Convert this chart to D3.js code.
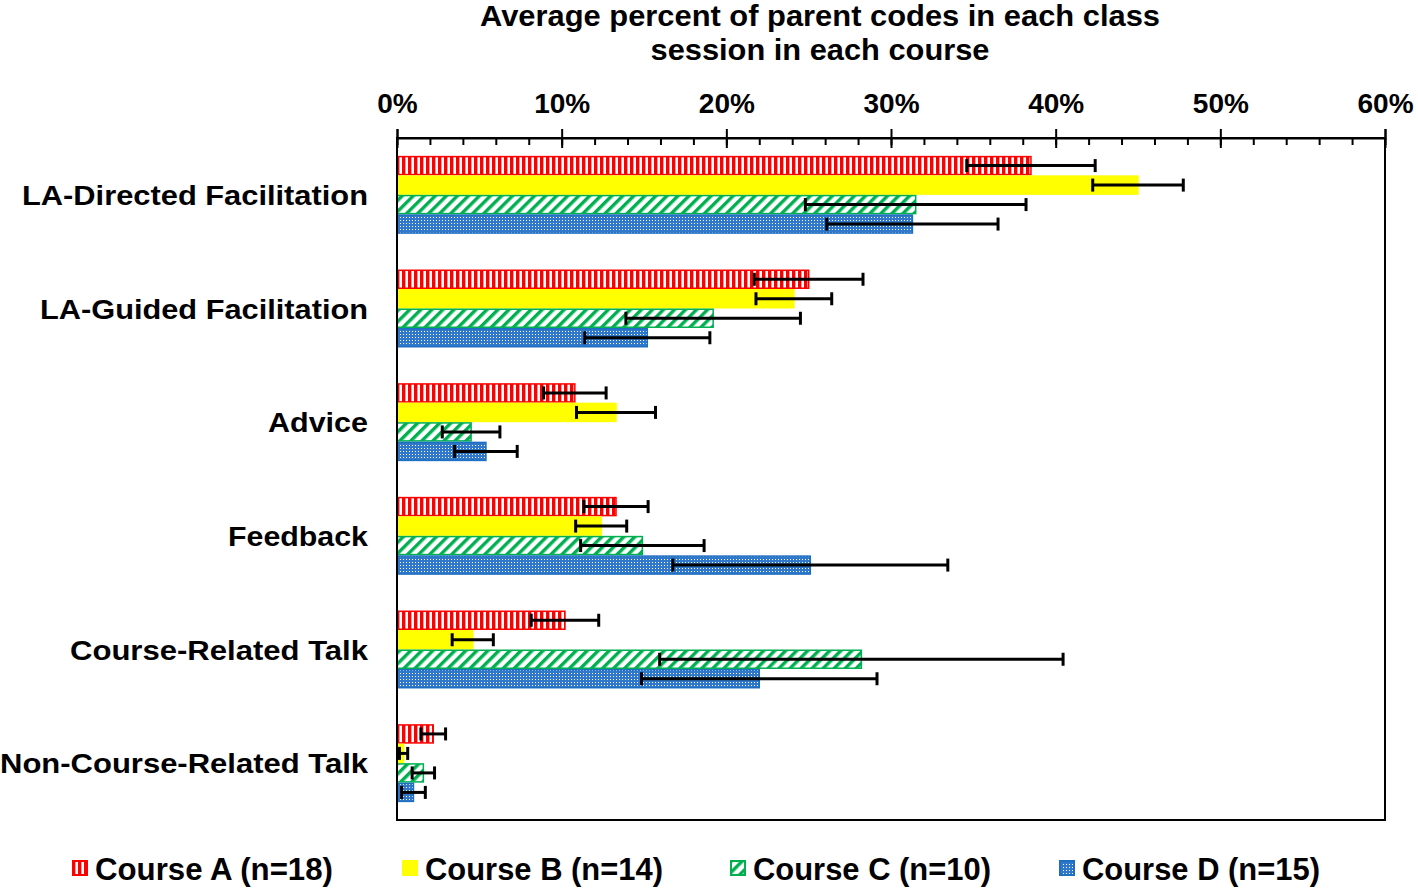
<!DOCTYPE html>
<html>
<head>
<meta charset="utf-8">
<script src="https://cdn.jsdelivr.net/npm/d3@7"></script>
<style>
  body { margin: 0; background: #fff; }
  text { font-family: "Liberation Sans", Arial, sans-serif; font-weight: bold; fill: #000; }
</style>
</head>
<body>
<svg id="chart" width="1418" height="888"></svg>
<script>
// data (percent)
var categories = ["LA-Directed Facilitation", "LA-Guided Facilitation", "Advice", "Feedback",
                  "Course-Related Talk", "Non-Course-Related Talk"];
var seriesNames = ["Course A (n=18)", "Course B (n=14)", "Course C (n=10)", "Course D (n=15)"];
var courseA = [38.5, 25.0, 10.8, 13.3, 10.2, 2.2];
var courseB = [45.0, 24.1, 13.3, 12.4, 4.6, 0.4];
var courseC = [31.5, 19.2, 4.5, 14.9, 28.2, 1.6];
var courseD = [31.3, 15.2, 5.4, 25.1, 22.0, 1.0];
var errA = [3.9, 3.3, 1.9, 1.95, 2.05, 0.75];
var errB = [2.75, 2.3, 2.4, 1.55, 1.25, 0.25];
var errC = [6.7, 5.3, 1.75, 3.75, 12.25, 0.68];
var errD = [5.2, 3.8, 1.9, 8.35, 7.15, 0.72];
var xTicks = [0, 10, 20, 30, 40, 50, 60];

var values = [courseA, courseB, courseC, courseD];
var errors = [errA, errB, errC, errD];
var colors = ["#ff0000", "#ffff00", "#00b050", "#1f6fc0"];
var fills = ["url(#patA)", "#ffff00", "url(#patC)", "url(#patD)"];

var svg = d3.select("#chart");
var plotL = 397, plotR = 1385, plotT = 138, plotB = 820;

// patterns
var defs = svg.append("defs");
var pA = defs.append("pattern").attr("id", "patA").attr("patternUnits", "userSpaceOnUse")
    .attr("width", 6).attr("height", 6);
pA.append("rect").attr("width", 6).attr("height", 6).attr("fill", "#ff0000");
pA.append("rect").attr("x", 3.4).attr("width", 2.6).attr("height", 6).attr("fill", "#fff");

var pC = defs.append("pattern").attr("id", "patC").attr("patternUnits", "userSpaceOnUse")
    .attr("width", 7.8).attr("height", 7.8).attr("patternTransform", "rotate(45)");
pC.append("rect").attr("width", 7.8).attr("height", 7.8).attr("fill", "#fff");
pC.append("rect").attr("width", 3.4).attr("height", 7.8).attr("fill", "#00b050");

// blue with small white dots
var pD = defs.append("pattern").attr("id", "patD").attr("patternUnits", "userSpaceOnUse")
    .attr("width", 3).attr("height", 3);
pD.append("rect").attr("width", 3).attr("height", 3).attr("fill", "#2f78cc")
    .attr("shape-rendering", "crispEdges");
pD.append("rect").attr("x", 1).attr("y", 1).attr("width", 1).attr("height", 1).attr("fill", "#ffffff")
    .attr("shape-rendering", "crispEdges");

var x = d3.scaleLinear().domain([0, 60]).range([plotL, plotR]);
var y = d3.scaleBand().domain(categories).range([plotT, plotB]).paddingInner(0.314).paddingOuter(0.157);
var ySub = d3.scaleBand().domain(d3.range(4)).range([0, y.bandwidth()]);

// title
var title = svg.append("g");
title.append("text").attr("x", 820).attr("y", 26).attr("text-anchor", "middle")
    .attr("font-size", 30).attr("textLength", 680).attr("lengthAdjust", "spacingAndGlyphs")
    .text("Average percent of parent codes in each class");
title.append("text").attr("x", 820).attr("y", 60).attr("text-anchor", "middle")
    .attr("font-size", 30).attr("textLength", 339).attr("lengthAdjust", "spacingAndGlyphs")
    .text("session in each course");

// bars
var barLayer = svg.append("g");
var errLayer = svg.append("g");

categories.forEach(function (cat, ci) {
    d3.range(4).forEach(function (s) {
        var v = values[s][ci];
        barLayer.append("rect")
            .attr("x", x(0))
            .attr("y", y(cat) + ySub(s) + 0.75)
            .attr("width", x(v) - x(0))
            .attr("height", ySub.bandwidth() - 1.5)
            .attr("fill", fills[s])
            .attr("stroke", colors[s])
            .attr("stroke-width", 1.5);
    });
});

// error bars
categories.forEach(function (cat, ci) {
    d3.range(4).forEach(function (s) {
        var v = values[s][ci], e = errors[s][ci];
        var cy = y(cat) + ySub(s) + ySub.bandwidth() / 2;
        var x0 = x(Math.max(0, v - e)), x1 = x(v + e);
        errLayer.append("line").attr("x1", x0).attr("x2", x1).attr("y1", cy).attr("y2", cy)
            .attr("stroke", "#000").attr("stroke-width", 3);
        [x0, x1].forEach(function (xx) {
            errLayer.append("line").attr("x1", xx).attr("x2", xx).attr("y1", cy - 6.5).attr("y2", cy + 6.5)
                .attr("stroke", "#000").attr("stroke-width", 3);
        });
    });
});

// frame
svg.append("rect").attr("x", plotL).attr("y", plotT).attr("width", plotR - plotL).attr("height", plotB - plotT)
    .attr("fill", "none").attr("stroke", "#000").attr("stroke-width", 2);

// axis on top
var axisMain = d3.axisTop(x).tickValues(xTicks).tickSize(9).tickPadding(16)
    .tickFormat(function (d) { return d + "%"; });
var ax = svg.append("g").attr("transform", "translate(0," + plotT + ")").call(axisMain);
ax.select(".domain").attr("stroke-width", 2);
ax.selectAll(".tick line").attr("stroke-width", 2);
ax.selectAll(".tick text").attr("font-size", 28).attr("font-family", "Liberation Sans, Arial, sans-serif")
    .attr("font-weight", "bold").attr("fill", "#000");

var axisDown = d3.axisTop(x).tickValues(xTicks).tickSize(-10).tickFormat("");
var axd = svg.append("g").attr("transform", "translate(0," + plotT + ")").call(axisDown);
axd.select(".domain").remove();
axd.selectAll(".tick line").attr("stroke-width", 2);

var axisMinor = d3.axisTop(x).tickValues(d3.range(0, 61, 2)).tickSize(-7).tickFormat("");
var axm = svg.append("g").attr("transform", "translate(0," + plotT + ")").call(axisMinor);
axm.select(".domain").remove();
axm.selectAll(".tick line").attr("stroke-width", 2);

// category labels
var catWidths = [346, 328, 100, 140, 298, 368];
svg.append("g").selectAll("text").data(categories).enter().append("text")
    .attr("x", 368)
    .attr("y", function (d) { return y(d) + y.bandwidth() / 2 + 10; })
    .attr("text-anchor", "end")
    .attr("font-size", 27)
    .attr("textLength", function (d, i) { return catWidths[i]; })
    .attr("lengthAdjust", "spacingAndGlyphs")
    .text(function (d) { return d; });

// legend
var legX = [72, 402, 730, 1059];
var leg = svg.append("g").selectAll("g").data(seriesNames).enter().append("g")
    .attr("transform", function (d, i) { return "translate(" + legX[i] + ",860)"; });
leg.append("rect").attr("x", 1).attr("y", 1).attr("width", 14).attr("height", 14)
    .attr("fill", function (d, i) { return fills[i]; })
    .attr("stroke", function (d, i) { return colors[i]; }).attr("stroke-width", 2);
leg.append("text").attr("x", 23).attr("y", 20).attr("font-size", 31)
    .attr("textLength", 238).attr("lengthAdjust", "spacingAndGlyphs")
    .text(function (d) { return d; });
</script>
</body>
</html>
